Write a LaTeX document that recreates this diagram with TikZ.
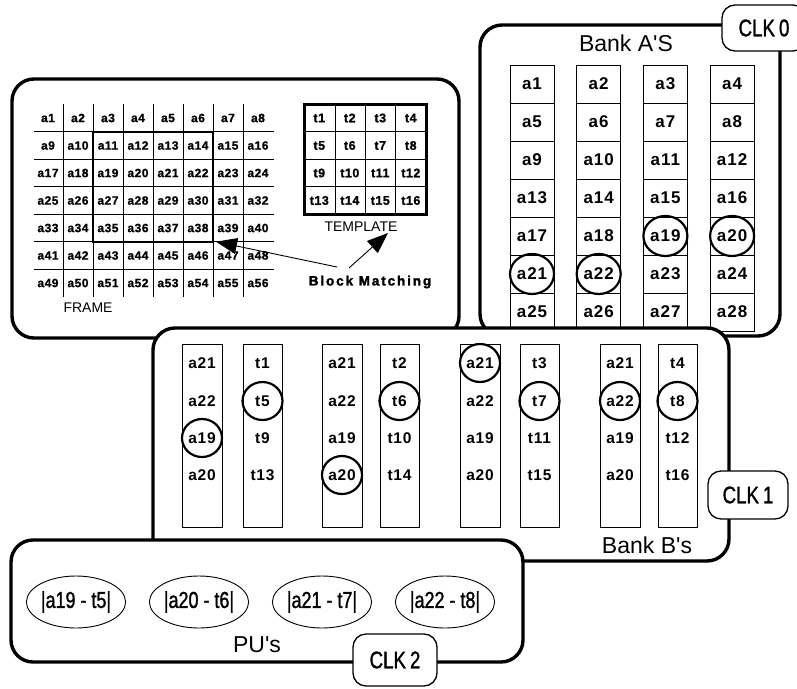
\documentclass[tikz,border=0pt]{standalone}
\usepackage{fontspec}
\setmainfont{Liberation Sans}
\newfontfamily\condfont[FakeStretch=0.78]{Liberation Sans}
\usetikzlibrary{arrows.meta,shapes.geometric}
\tikzset{
  panel/.style={draw, line width=3.4pt, rounded corners=22pt, fill=white},
  clk/.style={draw, line width=1.3pt, rounded corners=13pt, fill=white, inner sep=0pt,
    font=\condfont\fontsize{24}{24}\selectfont\addfontfeature{FakeBold=1.2}},
  ftxt/.style={font=\bfseries\fontsize{12}{12}\selectfont\addfontfeature{LetterSpace=4,FakeBold=1}, inner sep=0pt},
  ttxt/.style={font=\bfseries\fontsize{12.5}{12.5}\selectfont\addfontfeature{LetterSpace=4,FakeBold=1}, inner sep=0pt},
  atxt/.style={font=\bfseries\fontsize{17}{17}\selectfont\addfontfeature{LetterSpace=6}, inner sep=0pt},
  btxt/.style={font=\bfseries\fontsize{15.5}{15.5}\selectfont\addfontfeature{LetterSpace=5}, inner sep=0pt},
  lbl/.style={font=\fontsize{23}{23}\selectfont, inner sep=0pt},
  small/.style={font=\fontsize{14}{14}\selectfont, inner sep=0pt},
  thin/.style={line width=0.7pt},
  circ/.style={line width=2.2pt},
  pu/.style={draw, ellipse, line width=0.9pt, minimum width=96pt, minimum height=52pt,
    inner sep=0pt, font=\condfont\fontsize{23}{23}\selectfont\addfontfeature{FakeBold=1.2}},
  bigarrow/.style={line width=0.9pt, -{Triangle[length=21pt,width=16pt]}}
}
\begin{document}
\begin{tikzpicture}[x=1pt,y=-1pt]
\useasboundingbox (0,0) rectangle (797,688);
\fill[white] (0,0) rectangle (797,688);

% ---------------- FRAME panel
\draw[panel] (12,79) rectangle (459,338);
\foreach \k in {0,...,6} \draw[thin] (63+30*\k,104) -- (63+30*\k,297);
\foreach \k in {0,...,5} \draw[thin] (34,131.7+27.5*\k) -- (274,131.7+27.5*\k);
\foreach \r in {0,...,6} \foreach \c in {0,...,7} {
  \pgfmathtruncatemacro\n{8*\r+\c+1}
  \node[ftxt] (f\n) at (48+30*\c,118+27.5*\r) {a\n};
}
\draw[line width=2.2pt] (93,131.7) rectangle (213,241.7);
\coordinate (fbox) at (216,241.7);
\node[small] (framelbl) at (88,308) {FRAME};

% template
\draw[line width=0.8pt] (335,104) -- (335,214) (365,104) -- (365,214) (395,104) -- (395,214);
\draw[line width=0.8pt] (304,131.7) -- (426,131.7) (304,159.2) -- (426,159.2) (304,186.7) -- (426,186.7);
\draw[line width=3pt] (304,104) rectangle (426,214);
\foreach \r in {0,...,3} \foreach \c in {0,...,3} {
  \pgfmathtruncatemacro\n{4*\r+\c+1}
  \node[ttxt] (t\n) at (319.3+30.5*\c,118+27.5*\r) {t\n};
}
\node[small] (templbl) at (361,227) {TEMPLATE};
\coordinate (tmpl) at (388,233);
\node[font=\bfseries\fontsize{13.5}{13.5}\selectfont\addfontfeature{LetterSpace=14,FakeBold=2}, inner sep=0pt] (bm) at (370,282) {Block Matching};
\coordinate (bmL) at (337,267);
\coordinate (bmR) at (349,268);
\draw[bigarrow] (bmL) -- (fbox);
\draw[bigarrow] (bmR) -- (tmpl);

% ---------------- BANK A
\draw[panel] (480,25) rectangle (780,336);
\node[lbl] (banka) at (626,43) {Bank A\textquotesingle S};
\foreach \r in {0,...,6} \foreach \c in {0,...,3} {
  \pgfmathtruncatemacro\n{4*\r+\c+1}
  \draw[thin] (510+66.7*\c,65+38*\r) rectangle (554+66.7*\c,103+38*\r);
  \node[atxt] (A\n) at (532+66.7*\c,84+38*\r) {a\n};
}
\draw[circ] (A19) ellipse [x radius=22pt, y radius=20pt];
\draw[circ] (A20) ellipse [x radius=22pt, y radius=20pt];
\draw[circ] (A21) ellipse [x radius=22pt, y radius=20pt];
\draw[circ] (A22) ellipse [x radius=22pt, y radius=20pt];
\node[clk, minimum width=84pt, minimum height=46pt] (clk0) at (764,28) {CLK\,0};

% ---------------- BANK B
\draw[panel] (153,328) rectangle (729,561);
\node[lbl] (bankb) at (647,545) {Bank B\textquotesingle s};
\foreach \x/\i in {182/1,322/3,460/5,600/7} {
  \draw[thin] (\x,344) rectangle (\x+40,527);
  \node[btxt] (B\i a21) at (\x+20,363) {a21};
  \node[btxt] (B\i a22) at (\x+20,401) {a22};
  \node[btxt] (B\i a19) at (\x+20,438) {a19};
  \node[btxt] (B\i a20) at (\x+20,475) {a20};
}
\foreach \x/\i/\a/\b/\c/\d in {243/2/1/5/9/13,380/4/2/6/10/14,520/6/3/7/11/15,658/8/4/8/12/16} {
  \draw[thin] (\x,344) rectangle (\x+39,527);
  \node[btxt] (B\i t\a) at (\x+19.5,363) {t\a};
  \node[btxt] (B\i t\b) at (\x+19.5,401) {t\b};
  \node[btxt] (B\i t\c) at (\x+19.5,438) {t\c};
  \node[btxt] (B\i t\d) at (\x+19.5,475) {t\d};
}
\draw[circ] (B1a19) ellipse [x radius=20pt, y radius=19pt];
\draw[circ] (B2t5) ellipse [x radius=20pt, y radius=19pt];
\draw[circ] (B3a20) ellipse [x radius=20pt, y radius=19pt];
\draw[circ] (B4t6) ellipse [x radius=20pt, y radius=19pt];
\draw[circ] (B5a21) ellipse [x radius=20pt, y radius=19pt];
\draw[circ] (B6t7) ellipse [x radius=20pt, y radius=19pt];
\draw[circ] (B7a22) ellipse [x radius=20pt, y radius=19pt];
\draw[circ] (B8t8) ellipse [x radius=20pt, y radius=19pt];
\node[clk, minimum width=80pt, minimum height=48pt] (clk1) at (748,495) {CLK\,1};

% ---------------- PU's
\draw[panel] (11,540) rectangle (523,662);
\node[pu] (pu1) at (76,602) {|a19 - t5|};
\node[pu] (pu2) at (199,602) {|a20 - t6|};
\node[pu] (pu3) at (322,602) {|a21 - t7|};
\node[pu] (pu4) at (445,602) {|a22 - t8|};
\node[lbl] (pulbl) at (257,645) {PU\textquotesingle s};
\node[clk, minimum width=84pt, minimum height=52pt] (clk2) at (395,660) {CLK\,2};
\end{tikzpicture}
\end{document}
